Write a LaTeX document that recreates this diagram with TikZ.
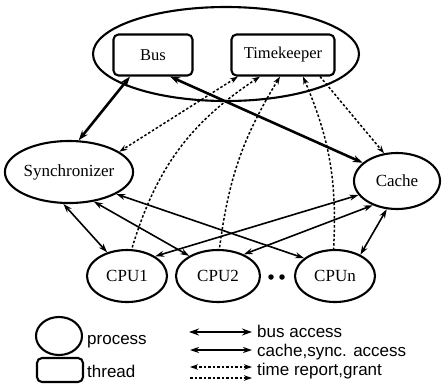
\documentclass[tikz,border=0pt]{standalone}
\usepackage{fontspec}
\setmainfont{Liberation Serif}
\newfontfamily\legendfont{Liberation Sans}
\usepackage{tikz}
\usetikzlibrary{arrows.meta, calc, shapes.geometric}

\tikzset{
    busline/.style={{Stealth[length=10pt,width=7pt]}-{Stealth[length=10pt,width=7pt]}, line width=2.6pt},
    accessline/.style={{Stealth[length=9pt,width=6pt]}-{Stealth[length=9pt,width=6pt]}, line width=1.6pt},
    timeline/.style={line width=1.5pt, dash pattern=on 2.5pt off 2pt},
}

\begin{document}
\begin{tikzpicture}[x=1pt, y=-1pt]
    \useasboundingbox (0,0) rectangle (442,384);

    \begin{scope}[every node/.style={ellipse,draw,line width=2.1pt,inner sep=0pt,
        font=\fontsize{17}{20}\selectfont}]
        \node[minimum width=266pt, minimum height=94pt] (server) at (226,54) {};
        \node[minimum width=114pt, minimum height=62pt] (sync) at (69,172) {Synchronizer};
        \node[minimum width=86pt, minimum height=56pt] (cache) at (397,181) {Cache};
        \node[minimum width=80pt, minimum height=52pt] (cpu1) at (127,276) {CPU1};
        \node[minimum width=84pt, minimum height=52pt] (cpu2) at (218,276) {CPU2};
        \node[minimum width=80pt, minimum height=52pt] (cpun) at (335,276) {CPUn};
        \node[minimum width=46pt, minimum height=38pt] (procsym) at (59,336) {};
    \end{scope}

    \begin{scope}[every node/.style={rectangle,rounded corners=5pt,draw,line width=2.1pt,
        inner sep=0pt,font=\fontsize{16.5}{20}\selectfont}]
        \node[minimum width=79pt, minimum height=41pt] (bus) at (153,55) {Bus};
        \node[minimum width=103pt, minimum height=41pt] (timer) at (283,55) {Timekeeper};
        \node[minimum width=46pt, minimum height=24pt] (threadsym) at (60,370) {};
    \end{scope}

    \begin{scope}[every node/.style={circle,fill,inner sep=0pt,minimum size=5.5pt}]
        \node (dota) at (271,277) {};
        \node (dotb) at (282,277) {};
    \end{scope}

    % thread and process links
    \draw[busline] ([xshift=-23pt]bus.south) -- (sync.73);
    \draw[busline] ([xshift=17pt]bus.south) -- (cache.152);

    \draw[accessline] (sync.-100) -- (cpu1.130);
    \draw[accessline] (sync.-50) -- (cpu2.145);
    \draw[accessline] (sync.-25) -- (cpun.150);
    \draw[accessline] (cache.200) -- (cpu1.35);
    \draw[accessline] (cache.-135) -- (cpu2.40);
    \draw[accessline] (cache.-110) -- (cpun.40);

    \begin{scope}[>={Stealth[length=8pt,width=5.5pt]}]
        \draw[timeline, <->] ([xshift=-45pt]timer.south) -- (sync.22);
        \draw[timeline, <-] ([xshift=-23pt]timer.south) to[bend right=20] (cpu1.80);
        \draw[timeline, <-] ([xshift=-3pt]timer.south) to[bend right=12] (cpu2.87);
        \draw[timeline, <-] ([xshift=20pt]timer.south) to[bend left=13] (cpun.93);
        \draw[timeline, ->] ([xshift=37pt]timer.south) -- (cache.115);
    \end{scope}

    % legend
    \coordinate (busA) at (189,332);
    \coordinate (busB) at (252,332);
    \coordinate (accA) at (190,350);
    \coordinate (accB) at (252,350);
    \coordinate (repA) at (190,367);
    \coordinate (repB) at (252,367);
    \coordinate (grantA) at (190,378);
    \coordinate (grantB) at (252,378);

    \draw[busline] (busA) -- (busB);
    \draw[accessline] (accA) -- (accB);
    \begin{scope}[>={Stealth[length=8pt,width=5.5pt]}]
        \draw[timeline, <->] (repA) -- (repB);
        \draw[timeline, ->] (grantA) -- (grantB);
    \end{scope}

    \begin{scope}[every node/.style={anchor=base west,inner sep=0pt,
        font=\legendfont\fontsize{17}{20}\selectfont}]
        \node (proclabel) at (87,344) {process};
        \node (threadlabel) at (87,377) {thread};
        \node (buslabel) at (257,337) {bus access};
        \node (acclabel) at (257,356) {cache,sync. access};
        \node (replabel) at (257,375) {time report,grant};
    \end{scope}
\end{tikzpicture}
\end{document}
